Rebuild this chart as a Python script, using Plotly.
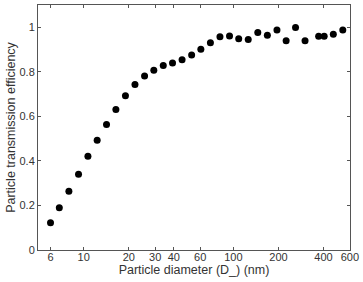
import plotly.graph_objects as go
import numpy as np

diameter_nm = [6.0, 6.87, 7.96, 9.23, 10.67, 12.3, 14.2, 16.4, 19.0, 22.0, 25.5, 29.4,
               34.0, 39.2, 45.4, 52.6, 60.6, 70.2, 81.3, 94.2, 108.5, 125.6, 145.5,
               168.6, 195.4, 225, 260, 301, 371, 404, 465, 538]
efficiency = [0.122, 0.190, 0.264, 0.340, 0.421, 0.493, 0.564, 0.631, 0.693, 0.743,
              0.781, 0.807, 0.828, 0.840, 0.854, 0.875, 0.901, 0.931, 0.957, 0.961,
              0.948, 0.945, 0.976, 0.964, 0.988, 0.939, 0.999, 0.939, 0.960, 0.960,
              0.969, 0.988]

x_tickvals = [6, 10, 20, 30, 40, 60, 100, 200, 400, 600]
x_ticktext = ["6", "10", "20", "30", "40", "60", "100", "200", "400", "600"]
y_tickvals = [0, 0.2, 0.4, 0.6, 0.8, 1.0]
y_ticktext = ["0", "0.2", "0.4", "0.6", "0.8", "1"]

fig = go.Figure()
fig.add_trace(go.Scatter(x=diameter_nm, y=efficiency, mode="markers",
                         marker=dict(color="black", size=7), showlegend=False))

axis_common = dict(showgrid=False, zeroline=False, showline=True, linecolor="#555555",
                   linewidth=1, mirror="ticks", ticks="inside", ticklen=3,
                   tickcolor="#555555", tickfont=dict(family="Liberation Sans, Arial", size=11, color="#333333"))

fig.update_xaxes(type="log", range=[np.log10(4.95), np.log10(601)],
                 tickvals=x_tickvals, ticktext=x_ticktext, ticklabelstandoff=-3,
                 title=dict(text="Particle diameter (D_) (nm)", standoff=0,
                            font=dict(family="Liberation Sans, Arial", size=12.5, color="#333333")),
                 **axis_common)
fig.update_yaxes(range=[0, 1.1], tickvals=y_tickvals, ticktext=y_ticktext,
                 title=dict(text="Particle transmission efficiency", standoff=1,
                            font=dict(family="Liberation Sans, Arial", size=12.5, color="#333333")),
                 **axis_common)

fig.update_layout(width=363, height=282, margin=dict(l=38, r=11, t=4, b=32),
                  plot_bgcolor="white", paper_bgcolor="white")
fig.write_html("out.html")
